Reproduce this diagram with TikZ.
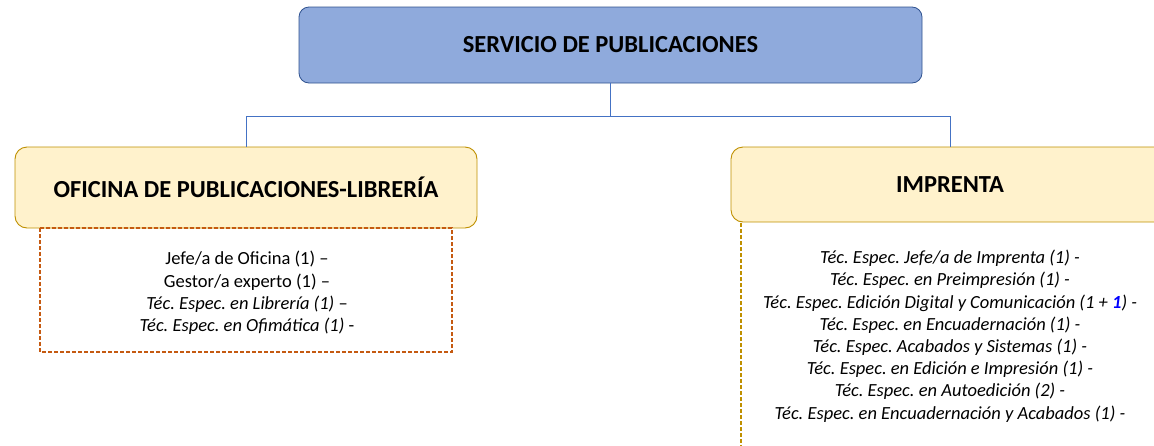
\documentclass[tikz,border=0pt]{standalone}
\usepackage{fontspec}
\setmainfont{Carlito}
\definecolor{c2F528F}{HTML}{2F528F}
\definecolor{c8FAADC}{HTML}{8FAADC}
\definecolor{cBF9000}{HTML}{BF9000}
\definecolor{cFFF2CC}{HTML}{FFF2CC}
\definecolor{c4472C4}{HTML}{4472C4}
\definecolor{cC55A11}{HTML}{C55A11}
\definecolor{cblue}{HTML}{0000FF}
\frenchspacing
\begin{document}
\begin{tikzpicture}[x=1pt,y=-1pt,
  topbox/.style={draw=c2F528F,fill=c8FAADC,rounded corners=10pt,line width=0.8pt,inner sep=0pt,font=\bfseries\fontsize{24.5}{28}\selectfont},
  unitbox/.style={draw=cBF9000,fill=cFFF2CC,rounded corners=12pt,line width=0.9pt,inner sep=0pt,font=\bfseries\fontsize{24.5}{28}\selectfont},
  staff/.style={align=center,font=\fontsize{18.5}{22.3}\selectfont,inner sep=0pt},
  link/.style={draw=c4472C4,line width=1pt},
  dashbox/.style={draw=cC55A11,dash pattern=on 4pt off 2pt,line width=1.2pt},
  dashline/.style={draw=cBF9000,dash pattern=on 4pt off 2pt,line width=1.2pt}]
\useasboundingbox (0,0) rectangle (1154,445);
\clip (0,0) rectangle (1154,445);
% top
\node[topbox,minimum width=623pt,minimum height=76pt] (top) at (610.5,45) {SERVICIO DE PUBLICACIONES};
% units
\node[unitbox,minimum width=462pt,minimum height=81pt] (ofi) at (246,187.5) {OFICINA DE PUBLICACIONES-LIBRERÍA};
\node[unitbox,minimum width=438pt,minimum height=75pt,text width=438pt,align=center] (imp) at (950,184.5) {IMPRENTA};
% connectors
\coordinate (bus) at (610.5,116);
\draw[link] (top.south) -- (bus);
\draw[link] (bus) -| (ofi.north);
\draw[link] (bus) -| (imp.north);
% dashed staff boxes
\coordinate (d1) at (40,228);
\coordinate (d2) at (452,352);
\draw[dashbox] (d1) rectangle (d2);
\coordinate (d3) at (741,223);
\coordinate (d4) at (741,450);
\draw[dashline] (d3) -- (d4);
\node[staff,anchor=north] (ofistaff) at (247,251) {Jefe/a de Oficina (1) –\\Gestor/a experto (1) –\\\textit{Téc. Espec. en Librería (1)} –\\\textit{Téc. Espec. en Ofimática (1)} -};
\node[staff,anchor=north,font=\itshape\fontsize{18.5}{22.2}\selectfont] (impstaff) at (950,250) {Téc. Espec. Jefe/a de Imprenta (1) -\\Téc. Espec. en Preimpresión (1) -\\Téc. Espec. Edición Digital y Comunicación (1 + {\bfseries\color{cblue}1}) -\\Téc. Espec. en Encuadernación (1) -\\Téc. Espec. Acabados y Sistemas (1) -\\Téc. Espec. en Edición e Impresión (1) -\\Téc. Espec. en Autoedición (2) -\\Téc. Espec. en Encuadernación y Acabados (1) -};
\end{tikzpicture}
\end{document}
